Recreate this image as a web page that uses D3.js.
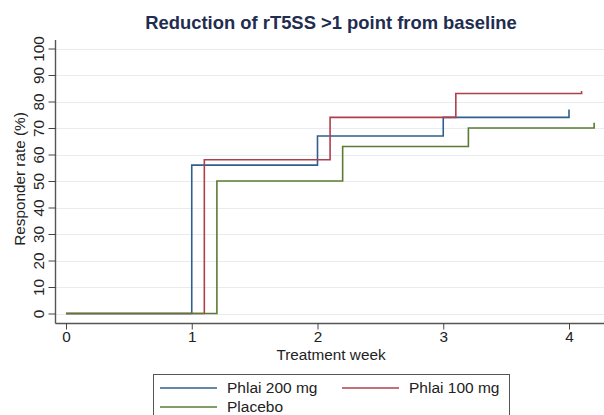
<!DOCTYPE html>
<html><head><meta charset="utf-8">
<script src="https://cdn.jsdelivr.net/npm/d3@7"></script>
<style>body{margin:0;background:#fff}svg{display:block;font-family:"Liberation Sans",Arial,sans-serif}</style>
</head><body><svg id="c" width="604" height="415"></svg>
<script>
const title = "Reduction of rT5SS >1 point from baseline";
const xLabel = "Treatment week";
const yLabel = "Responder rate (%)";
const xTicks = [0, 1, 2, 3, 4];
const yTicks = [0, 10, 20, 30, 40, 50, 60, 70, 80, 90, 100];
const seriesNames = ["Phlai 200 mg", "Phlai 100 mg", "Placebo"];
const seriesColors = ["#2f5f8f", "#b03f4c", "#5b7b33"];
const weeks200 = [0, 1.0, 2.0, 3.0, 4.0];
const rate200 = [0, 56, 67, 74, 77];
const weeks100 = [0, 1.1, 2.1, 3.1, 4.1];
const rate100 = [0, 58, 74, 83, 84];
const weeksPbo = [0, 1.2, 2.2, 3.2, 4.2];
const ratePbo = [0, 50, 63, 70, 72];

const svg = d3.select("#c");
const x = d3.scaleLinear().domain([0, 4]).range([66, 569]);
const y = d3.scaleLinear().domain([0, 100]).range([313.5, 48.5]);
const axisLeftX = 55.5, axisBottomY = 323.5, plotTop = 40, plotRight = 604;
const fs = 15.3;

// gridlines
svg.append("g").selectAll("line").data(yTicks).join("line")
  .attr("x1", axisLeftX).attr("x2", plotRight)
  .attr("y1", d => Math.round(y(d)) + 0.5).attr("y2", d => Math.round(y(d)) + 0.5)
  .attr("stroke", "#e6edf2").attr("stroke-width", 1.2);

// series
const data = [[weeks200, rate200], [weeks100, rate100], [weeksPbo, ratePbo]];
const line = d3.line().x(d => x(d[0])).y(d => y(d[1])).curve(d3.curveStepAfter);
data.forEach((s, i) => {
  const pts = s[0].map((w, k) => [w, s[1][k]]);
  svg.append("path").datum(pts).attr("d", line)
    .attr("fill", "none").attr("stroke", seriesColors[i]).attr("stroke-width", 1.6);
});

// axes
const yAxis = d3.axisLeft(y).tickValues(yTicks).tickSize(7).tickPadding(4);
const gy = svg.append("g").attr("transform", `translate(${axisLeftX},0)`).call(yAxis);
gy.select(".domain").attr("d", `M0,${plotTop}V${axisBottomY}`);
gy.selectAll(".tick text").attr("transform", "rotate(-90)").attr("text-anchor", "middle")
  .attr("x", 0).attr("y", -17).attr("dy", "0.35em")
  .attr("font-size", fs).attr("fill", "#222");
gy.selectAll(".tick line").attr("stroke", "#444");
gy.select(".domain").attr("stroke", "#555").attr("stroke-width", 1.4);

const xAxis = d3.axisBottom(x).tickValues(xTicks).tickFormat(d3.format("d")).tickSize(6).tickPadding(2);
const gx = svg.append("g").attr("transform", `translate(0,${axisBottomY})`).call(xAxis);
gx.select(".domain").attr("d", `M${axisLeftX},0H${plotRight}`).attr("stroke", "#555").attr("stroke-width", 1.4);
gx.selectAll(".tick text").attr("font-size", fs).attr("fill", "#222");
gx.selectAll(".tick line").attr("stroke", "#444");

// labels
svg.append("text").attr("x", 331).attr("y", 29).attr("text-anchor", "middle")
  .attr("font-size", 18.4).attr("font-weight", "bold").attr("fill", "#1f2d50").text(title);
svg.append("text").attr("x", 331).attr("y", 360).attr("text-anchor", "middle")
  .attr("font-size", fs).attr("fill", "#222").text(xLabel);
svg.append("text").attr("transform", "translate(25,179) rotate(-90)").attr("text-anchor", "middle")
  .attr("font-size", fs).attr("fill", "#222").text(yLabel);

// legend
const lg = svg.append("g");
lg.append("rect").attr("x", 153.5).attr("y", 374.5).attr("width", 356).attr("height", 60)
  .attr("fill", "#fff").attr("stroke", "#555").attr("stroke-width", 1);
const legPos = [[160, 388], [342, 388], [160, 407]];
seriesNames.forEach((n, i) => {
  const [lx, ly] = legPos[i];
  lg.append("line").attr("x1", lx).attr("x2", lx + 57).attr("y1", ly).attr("y2", ly)
    .attr("stroke", seriesColors[i]).attr("stroke-width", 1.4);
  lg.append("text").attr("x", lx + 67).attr("y", ly).attr("dy", "0.35em")
    .attr("font-size", 15.5).attr("fill", "#222").text(n);
});
</script></body></html>
